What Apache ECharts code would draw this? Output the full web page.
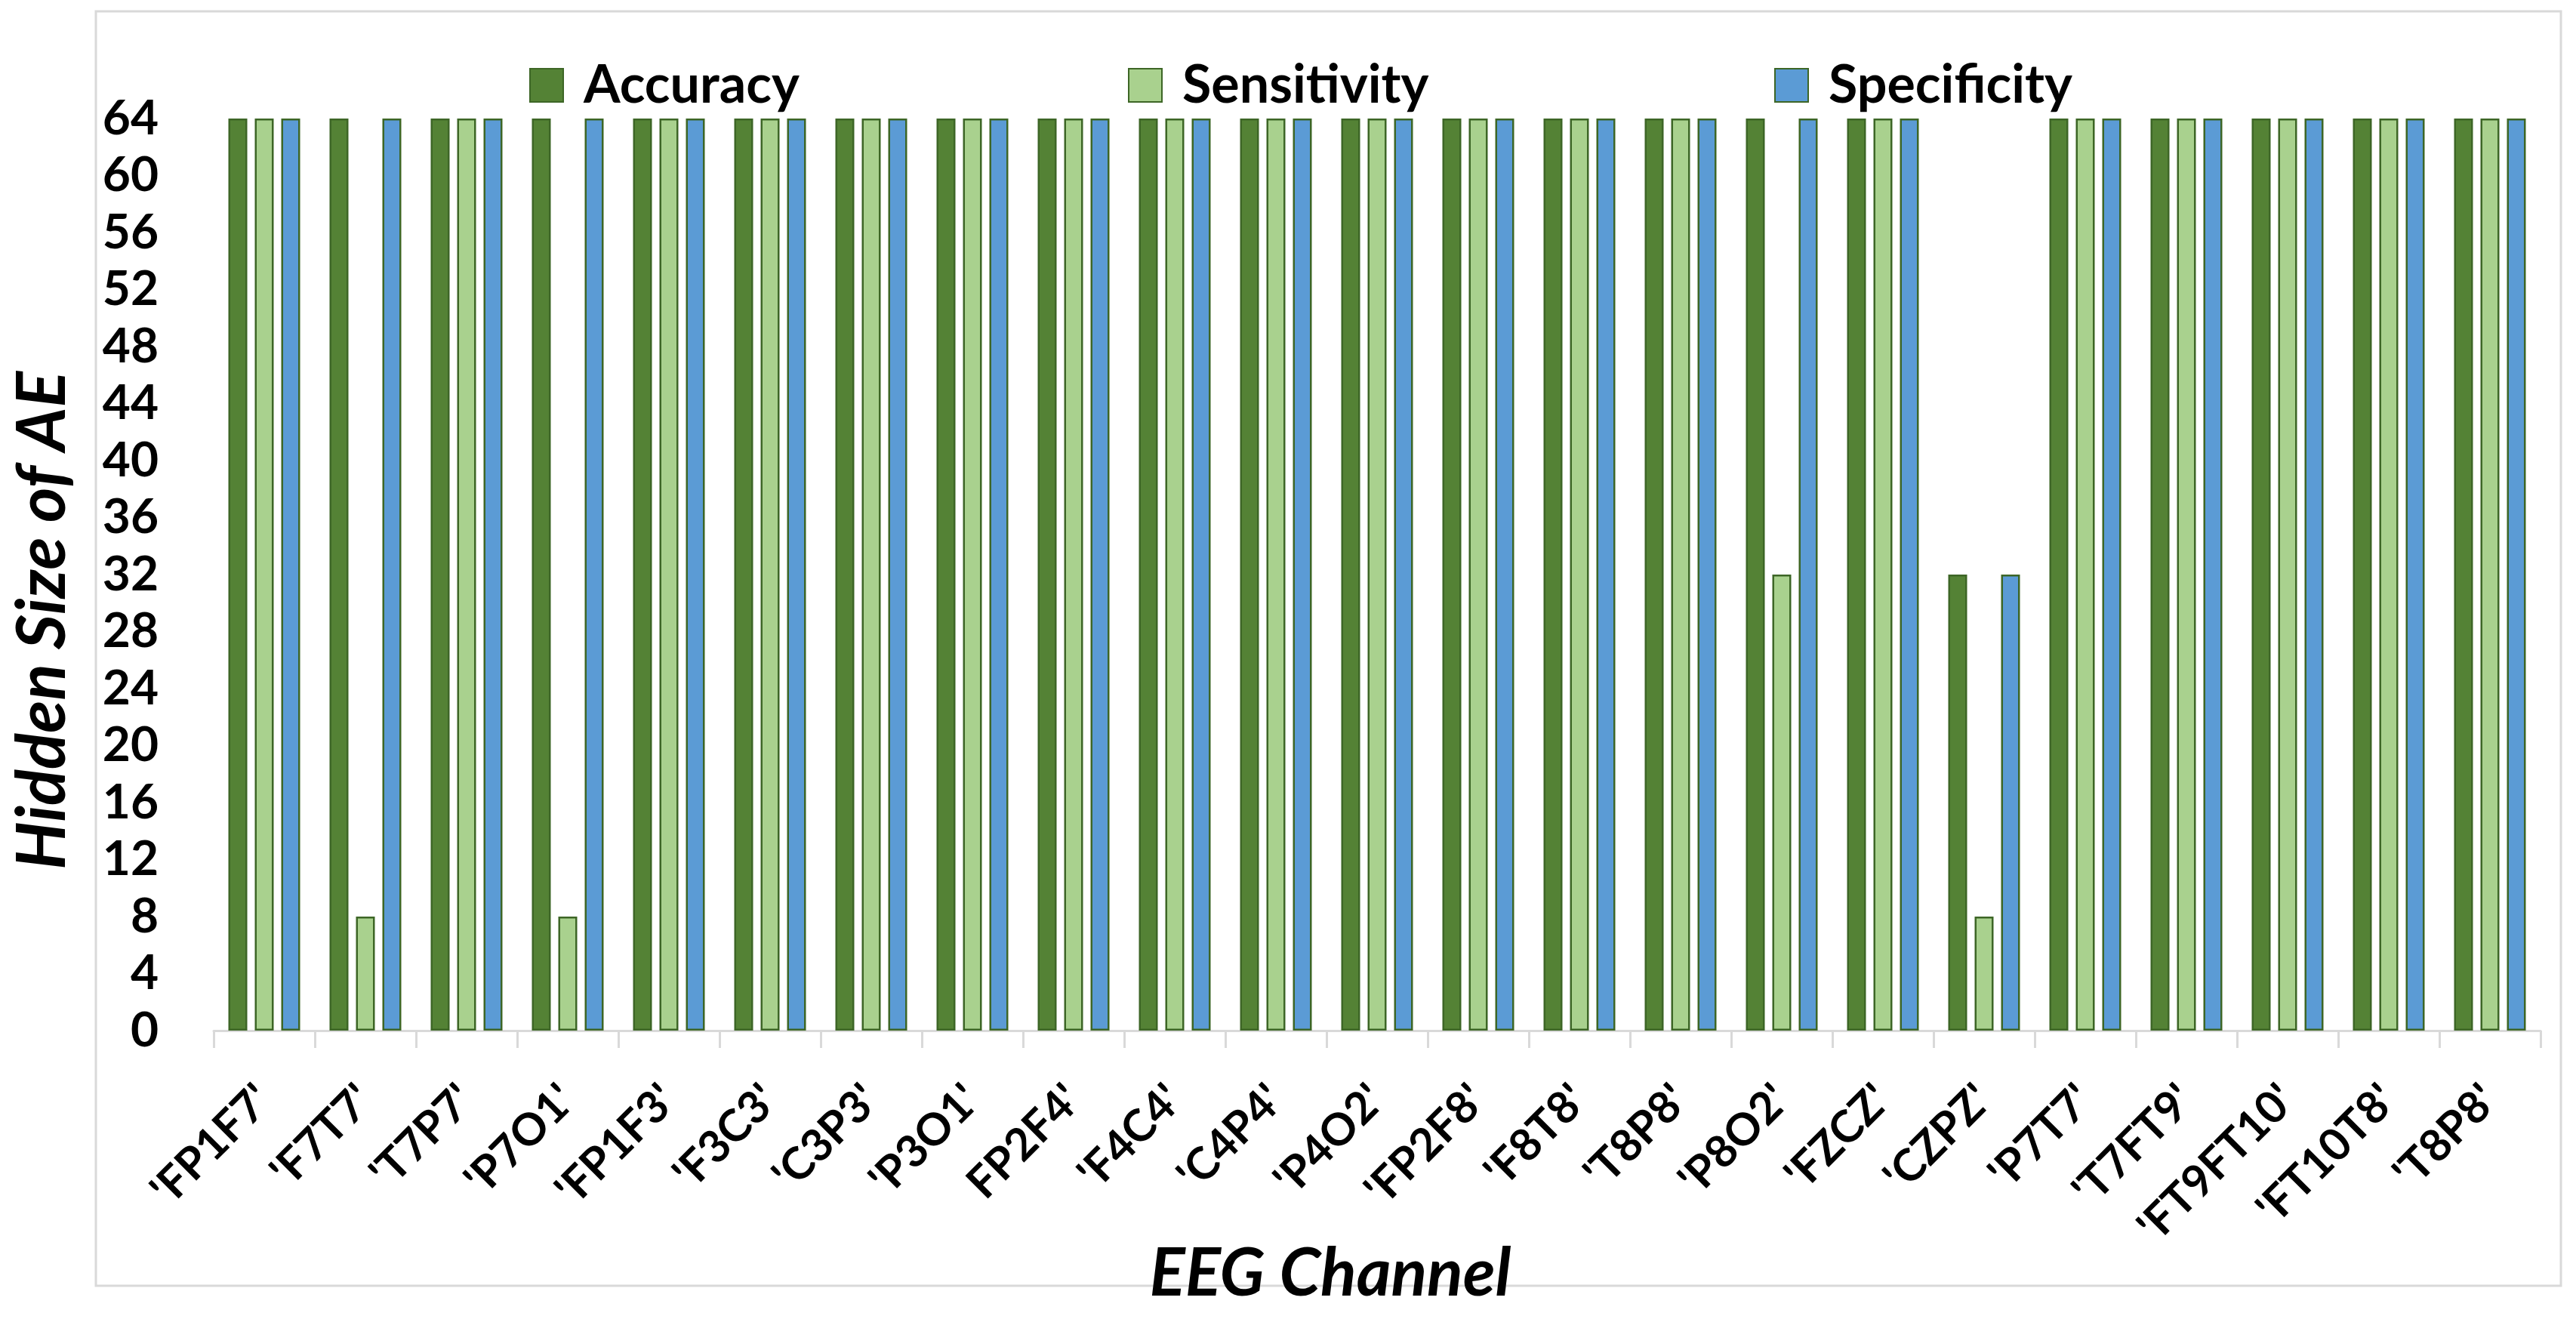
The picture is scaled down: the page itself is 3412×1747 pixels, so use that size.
<!DOCTYPE html>
<html>
<head>
<meta charset="utf-8">
<script src="https://cdn.jsdelivr.net/npm/echarts@6/dist/echarts.min.js"></script>
<style>
html,body{margin:0;padding:0;background:#fff;}
#chart{width:3412px;height:1747px;}
</style>
</head>
<body>
<div id="chart"></div>
<script>
const categories = ["'FP1F7'","'F7T7'","'T7P7'","'P7O1'","'FP1F3'","'F3C3'","'C3P3'","'P3O1'","FP2F4'","'F4C4'","'C4P4'","'P4O2'","'FP2F8'","'F8T8'","'T8P8'","'P8O2'","'FZCZ'","'CZPZ'","'P7T7'","'T7FT9'","'FT9FT10'","'FT10T8'","'T8P8'"];
const accuracy    = [64,64,64,64,64,64,64,64,64,64,64,64,64,64,64,64,64,32,64,64,64,64,64];
const sensitivity = [64, 8,64, 8,64,64,64,64,64,64,64,64,64,64,64,32,64, 8,64,64,64,64,64];
const specificity = [64,64,64,64,64,64,64,64,64,64,64,64,64,64,64,64,64,32,64,64,64,64,64];
const yTicks = {min:0, max:64, interval:4};
const seriesNames = ['Accuracy','Sensitivity','Specificity'];

const FONT = 'Lato';
const BORDER = '#3d6626';

// font sizing from measured text widths (to match reference text extents)
const mctx = document.createElement('canvas').getContext('2d');
function widthAt100(text, style){
  mctx.font = style + ' 100px ' + FONT;
  return mctx.measureText(text).width / 100;
}
function fitSize(text, style, target){ return Math.round(target / widthAt100(text, style)); }
// rotated 45deg label: (L + capHeight) * 0.707 = bbox side ~ 217
const xLabelSize = Math.round(307 / (widthAt100("'FT9FT10'", 'bold') + 0.72));
const legendSize = fitSize('Sensitivity', 'bold', 325);
const yTitleSize = fitSize('Hidden Size of AE', 'italic bold', 662);
const xTitleSize = fitSize('EEG Channel', 'italic bold', 478);

const chart = echarts.init(document.getElementById('chart'), null, {renderer:'canvas'});

function bar(name, data, color){
  return {
    name, type:'bar', data,
    barWidth:25, barGap:'40%',
    itemStyle:{color, borderColor:BORDER, borderWidth:2.5},
    emphasis:{disabled:true}
  };
}
function legendFor(name, left){
  return {
    data:[name], left, top:73, itemWidth:44, itemHeight:44,
    icon:'rect',
    textStyle:{fontFamily:FONT, fontSize:legendSize, fontWeight:'bold', color:'#000', padding:[0,0,0,22]}
  };
}

chart.setOption({
  animation:false,
  backgroundColor:'#fff',
  legend:[legendFor('Accuracy',696), legendFor('Sensitivity',1489), legendFor('Specificity',2345)],
  grid:{left:283, right:47, top:157, bottom:382, containLabel:false},
  xAxis:{
    type:'category', data:categories, boundaryGap:true,
    axisLine:{show:true, lineStyle:{color:'#d9d9d9', width:3}},
    axisTick:{show:true, length:23, lineStyle:{color:'#d9d9d9', width:3}},
    axisLabel:{rotate:45, margin:82, fontFamily:FONT, fontSize:xLabelSize, fontWeight:'bold', color:'#000', interval:0},
    splitLine:{show:false}
  },
  yAxis:{
    type:'value', min:yTicks.min, max:yTicks.max, interval:yTicks.interval,
    axisLine:{show:false}, axisTick:{show:false}, splitLine:{show:false},
    axisLabel:{margin:73, fontFamily:FONT, fontSize:64, fontWeight:'bold', color:'#000'}
  },
  series:[
    bar(seriesNames[0], accuracy, '#548235'),
    bar(seriesNames[1], sensitivity, '#a9d18e'),
    bar(seriesNames[2], specificity, '#5b9bd5')
  ],
  graphic:[
    {type:'rect', z:-10, silent:true, shape:{x:127, y:15, width:3265, height:1688},
     style:{fill:null, stroke:'#d9d9d9', lineWidth:3}},
    {type:'text', x:57, y:822, rotation:Math.PI/2, z:10,
     style:{text:'Hidden Size of AE', align:'center', verticalAlign:'middle',
            font:'italic bold ' + yTitleSize + 'px Lato', fill:'#000'}},
    {type:'text', x:1762, y:1688, z:10,
     style:{text:'EEG Channel', align:'center', verticalAlign:'middle',
            font:'italic bold ' + xTitleSize + 'px Lato', fill:'#000'}}
  ]
});
</script>
</body>
</html>
